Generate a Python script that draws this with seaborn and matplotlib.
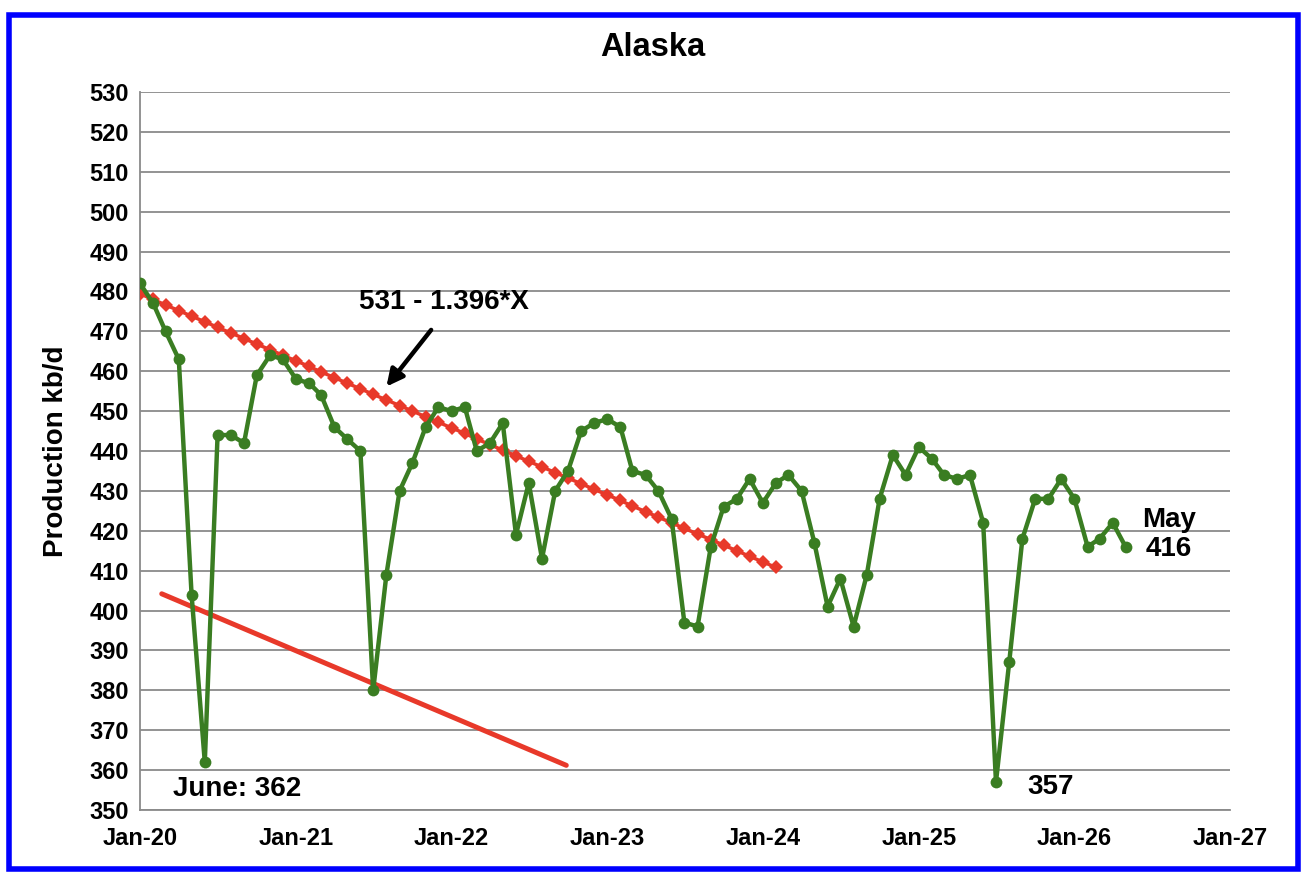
import pandas as pd
import matplotlib
matplotlib.use("Agg")
import matplotlib.pyplot as plt
import matplotlib.dates as mdates
from matplotlib.patches import Rectangle
import seaborn as sns

# monthly Alaska production, kb/d, Jan-20 .. May-26
production = [482, 477, 470, 463, 404, 362, 444, 444, 442, 459, 464, 463,
              458, 457, 454, 446, 443, 440, 380, 409, 430, 437, 446, 451,
              450, 451, 440, 442, 447, 419, 432, 413, 430, 435, 445, 447,
              448, 446, 435, 434, 430, 423, 397, 396, 416, 426, 428, 433,
              427, 432, 434, 430, 417, 401, 408, 396, 409, 428, 439, 434,
              441, 438, 434, 433, 434, 422, 357, 387, 418, 428, 428, 433,
              428, 416, 418, 422, 416]
months = pd.date_range("2020-01-01", periods=len(production), freq="MS")

# trend line 531 - 1.396*X, Jan-20 .. Feb-24
trend = [479.4, 478.0, 476.6, 475.2, 473.8, 472.4, 471.0, 469.6, 468.2, 466.8,
         465.4, 464.0, 462.6, 461.2, 459.8, 458.4, 457.0, 455.6, 454.2, 452.8,
         451.4, 450.0, 448.6, 447.2, 445.8, 444.4, 443.0, 441.6, 440.2, 438.8,
         437.4, 436.0, 434.6, 433.2, 431.8, 430.4, 429.0, 427.6, 426.2, 424.8,
         423.4, 422.0, 420.6, 419.2, 417.8, 416.4, 415.0, 413.6, 412.2, 410.8]
trend_months = months[:len(trend)]

# lower support line
low_dates = pd.to_datetime(["2020-02-21", "2022-09-27"])
low_vals = [404.2, 361.2]

df = pd.DataFrame({"date": months, "prod": production})
df_trend = pd.DataFrame({"date": trend_months, "trend": trend})
df_low = pd.DataFrame({"date": low_dates, "val": low_vals})

sns.set_style("white")
plt.rcParams['font.family'] = ['Liberation Sans', 'DejaVu Sans']
plt.rcParams['font.weight'] = 'bold'
plt.rcParams['text.color'] = 'black'
plt.rcParams['axes.labelcolor'] = 'black'
plt.rcParams['xtick.labelcolor'] = 'black'
plt.rcParams['ytick.labelcolor'] = 'black'

fig = plt.figure(figsize=(13.08, 8.8), dpi=100)
ax = fig.add_axes([140 / 1308, 1 - 810 / 880, 1090 / 1308, 718 / 880])

green = '#3a7d22'
red = '#e8392a'

sns.lineplot(data=df_low, x="date", y="val", ax=ax, color=red, linewidth=3.6, zorder=2)
sns.lineplot(data=df_trend, x="date", y="trend", ax=ax, color=red, linewidth=2.5,
             marker='D', markersize=7, markeredgewidth=0, zorder=3)
sns.lineplot(data=df, x="date", y="prod", ax=ax, color=green, linewidth=3.2,
             marker='o', markersize=8.5, markeredgewidth=0, zorder=4)

ax.set_xlim(pd.Timestamp("2020-01-01"), pd.Timestamp("2027-01-01"))
ax.set_ylim(350, 530)
ax.set_yticks(range(350, 531, 10))
ax.xaxis.set_major_locator(mdates.YearLocator())
ax.xaxis.set_major_formatter(mdates.DateFormatter('%b-%y'))
ax.grid(axis='y', color='#8a8a8a', linewidth=1.3)
ax.set_axisbelow(True)
for s in ['top', 'right']:
    ax.spines[s].set_visible(False)
for s in ['left', 'bottom']:
    ax.spines[s].set_color('#8a8a8a')
    ax.spines[s].set_linewidth(1.3)
ax.tick_params(axis='x', direction='in', length=7, color='#8a8a8a', labelsize=17, pad=12)
ax.tick_params(axis='y', length=0, labelsize=17, pad=8)
for lab in ax.get_xticklabels() + ax.get_yticklabels():
    lab.set_fontweight('bold')
ax.set_xlabel("")
ax.set_ylabel("Production kb/d", fontsize=20, fontweight='bold')
ax.yaxis.set_label_coords(-0.065, 0.5)

fig.text(653 / 1308, 1 - 48 / 880, "Alaska", ha='center', va='center',
         fontsize=23.5, fontweight='bold')

ax.annotate("", xy=(pd.Timestamp("2021-07-28"), 455.6),
            xytext=(pd.Timestamp("2021-11-18"), 470.9),
            arrowprops=dict(arrowstyle='-|>,head_length=1.0,head_width=0.5',
                            color='black', linewidth=3.2))
ax.text(pd.Timestamp("2021-12-15"), 477.4, "531 - 1.396*X", ha='center', va='center',
        fontsize=20, fontweight='bold')
ax.text(pd.Timestamp("2020-08-15"), 355.2, "June: 362", ha='center', va='center',
        fontsize=20, fontweight='bold')
ax.text(pd.Timestamp("2025-11-05"), 355.7, "357", ha='center', va='center',
        fontsize=20, fontweight='bold')
ax.text(pd.Timestamp("2026-08-10"), 422.8, "May", ha='center', va='center',
        fontsize=20, fontweight='bold')
ax.text(pd.Timestamp("2026-08-10"), 415.5, "416", ha='center', va='center',
        fontsize=20, fontweight='bold')

fig.patches.append(Rectangle((9 / 1308, 1 - 869 / 880), 1289 / 1308, 854 / 880,
                             transform=fig.transFigure, fill=False,
                             edgecolor='#0000ff', linewidth=4))

fig.savefig("out.png", dpi=100)
